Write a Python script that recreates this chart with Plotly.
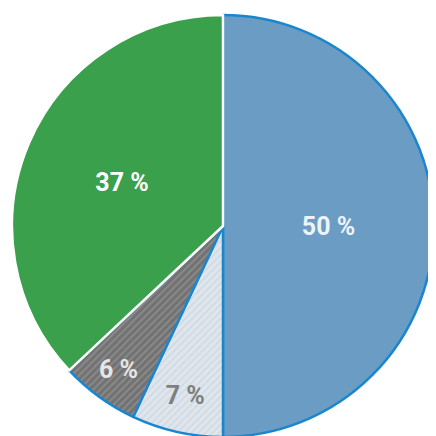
import plotly.graph_objects as go

labels = ["A", "B", "C", "D"]
values = [50, 7, 6, 37]
text_labels = ["<b>50 %</b>", "<b>7 %</b>", "<b>6 %</b>", "<b>37 %</b>"]

fig = go.Figure(go.Pie(
    labels=labels, values=values, text=text_labels,
    textinfo="text", sort=False, direction="clockwise", rotation=0,
    textposition="inside", insidetextorientation="horizontal",
    marker=dict(
        colors=["#6a9cc4", "#dfe6ec", "#6e6e6e", "#3aa04c"],
        line=dict(color=["#1a86d0", "#1a86d0", "#1a86d0", "#ffffff"], width=2.5),
        pattern=dict(shape=["", "/", "/", ""],
                     bgcolor=["#6a9cc4", "#e1e6ea", "#727272", "#3aa04c"],
                     fgcolor=["#6a9cc4", "#cfdce8", "#8a8a8a", "#3aa04c"],
                     size=5, solidity=0.4),
    ),
    textfont=dict(family="Roboto", size=25, color=["#eef3f8", "#7f7f7f", "#e6e6e6", "#ffffff"]),
    hoverinfo="skip", showlegend=False,
))
fig.update_layout(width=436, height=436, margin=dict(l=4, r=10, t=4, b=4),
                  paper_bgcolor="white", plot_bgcolor="white")
fig.write_html("out.html")
